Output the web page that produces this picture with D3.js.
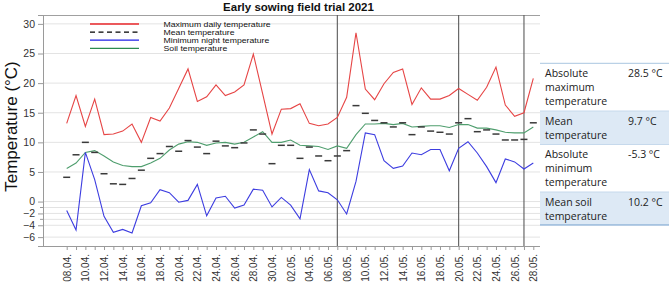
<!DOCTYPE html>
<html><head><meta charset="utf-8">
<script src="https://cdn.jsdelivr.net/npm/d3@7"></script>
<style>
html,body{margin:0;padding:0;background:#fff;}
svg{display:block;}
text{font-family:"Liberation Sans",Arial,sans-serif;}
.tbl text{font-family:"Open Sans","Noto Sans",sans-serif;}
</style></head>
<body>
<svg id="chart" width="669" height="285"></svg>
<script>
const title = "Early sowing field trial 2021";
const yTitle = "Temperature (°C)";
const dates = ["08.04.","09.04.","10.04.","11.04.","12.04.","13.04.","14.04.","15.04.","16.04.","17.04.","18.04.","19.04.","20.04.","21.04.","22.04.","23.04.","24.04.","25.04.","26.04.","27.04.","28.04.","29.04.","30.04.","01.05.","02.05.","03.05.","04.05.","05.05.","06.05.","07.05.","08.05.","09.05.","10.05.","11.05.","12.05.","13.05.","14.05.","15.05.","16.05.","17.05.","18.05.","19.05.","20.05.","21.05.","22.05.","23.05.","24.05.","25.05.","26.05.","27.05.","28.05."];
const maxTemp = [13.2,17.9,12.7,17.3,11.3,11.4,11.9,13.1,10.0,14.2,13.6,15.8,19.1,22.4,16.9,17.7,19.7,17.9,18.5,19.7,24.9,18.2,11.4,15.6,15.7,16.5,13.2,12.8,13.1,14.2,17.6,28.5,19.0,17.2,19.9,21.8,22.4,16.4,19.2,17.3,17.3,17.9,19.1,18.1,17.1,19.3,22.7,16.3,14.4,15.0,20.8];
const meanTemp = [4.1,7.9,10.0,8.3,4.7,3.0,2.9,3.9,5.3,7.3,8.1,9.3,8.5,10.3,9.2,8.1,10.2,9.4,9.1,9.9,12.1,11.4,6.4,9.5,9.5,7.3,9.2,7.7,6.9,7.7,8.6,16.2,14.9,13.7,13.3,12.6,13.3,11.3,12.6,11.9,11.7,11.4,13.3,14.0,11.8,12.1,11.4,10.4,10.4,10.5,13.3];
const minTemp = [-1.5,-4.8,8.3,3.7,-2.5,-5.2,-4.7,-5.3,-0.7,-0.2,2.0,1.5,-0.1,0.2,2.9,-2.4,0.6,0.9,-1.1,-0.6,2.1,1.9,-0.9,0.7,-0.6,-2.9,5.4,1.8,1.5,0.3,-2.1,3.4,11.6,11.3,6.9,5.6,6.0,8.2,7.9,8.8,8.8,5.2,9.0,10.1,8.2,5.9,3.2,7.2,6.7,5.5,6.5];
const soilTemp = [5.6,6.5,8.3,8.6,7.7,6.7,6.1,5.9,5.9,6.5,7.3,8.7,9.7,10.1,10.0,9.5,9.9,10.0,9.7,10.0,10.9,11.8,10.0,10.0,10.4,9.5,9.4,9.3,8.8,9.4,9.0,11.3,13.1,13.1,13.2,13.0,13.2,12.6,12.7,12.8,12.8,12.5,13.0,13.0,12.4,12.4,12.1,11.7,11.6,11.6,12.6];
const markerDates = ["07.05.","20.05.","27.05."];
const yTickValues = [-6,-4,-2,0,5,10,15,20,25,30];
const yGridValues = [-6,-4,-3,-2,-1,0,5,10,15,20,25,30];
const legendLabels = ["Maximum daily temperature","Mean temperature","Minimum night temperature","Soil temperature"];
const statLabels = [["Absolute","maximum","temperature"],["Mean","temperature"],["Absolute","minimum","temperature"],["Mean soil","temperature"]];
const statValues = ["28.5 °C","9.7 °C","-5.3 °C","10.2 °C"];

const svg = d3.select("#chart");
const L = 43, R = 540, T = 15, B = 246;
const x = d3.scalePoint().domain(dates).range([66.7, 533.3]);
const y = d3.scaleLinear().domain([-7.5, 31.5]).range([B, T]);

// grid
svg.append("g").selectAll("line").data(yGridValues).join("line")
  .attr("x1", L).attr("x2", R).attr("y1", d => y(d)).attr("y2", d => y(d))
  .attr("stroke", "#e3e3e3").attr("stroke-width", 1);

// top border
svg.append("line").attr("x1", L).attr("x2", R).attr("y1", T + 0.5).attr("y2", T + 0.5)
  .attr("stroke", "#a0a0a0");

// vertical markers
svg.append("g").selectAll("line").data(markerDates).join("line")
  .attr("x1", d => x(d)).attr("x2", d => x(d)).attr("y1", T).attr("y2", B)
  .attr("stroke", "#5a5a5a").attr("stroke-width", 1.1);

// y axis
const yAxis = svg.append("g").attr("transform", `translate(${L},0)`)
  .call(d3.axisLeft(y).tickValues(yTickValues).tickSize(5).tickPadding(3).tickFormat(d3.format("d")));
yAxis.select(".domain").attr("stroke", "#9a9a9a");
yAxis.selectAll(".tick line").attr("stroke", "#9a9a9a");
yAxis.selectAll("text").attr("font-size", 10.5).attr("fill", "#333").style("font-family", "Liberation Sans, Arial, sans-serif");
svg.append("g").selectAll("line").data([-1,-3]).join("line")
  .attr("x1", L - 3).attr("x2", L).attr("y1", d => y(d)).attr("y2", d => y(d)).attr("stroke", "#9a9a9a");

// x axis
const xAxis = svg.append("g").attr("transform", `translate(0,${B})`)
  .call(d3.axisBottom(x).tickSize(4).tickFormat((d, i) => i % 2 === 0 ? d : ""));
xAxis.select(".domain").attr("stroke", "#9a9a9a").attr("d", `M${L},0.5H${R}`);
xAxis.selectAll(".tick line").attr("stroke", "#9a9a9a");
xAxis.selectAll("text").attr("font-size", 10).attr("fill", "#333")
  .attr("transform", "rotate(-90)").attr("text-anchor", "end")
  .attr("x", -8).attr("y", 0).attr("dy", "0.35em")
  .style("font-family", "Liberation Sans, Arial, sans-serif");

// lines
const line = d3.line().x((d, i) => x(dates[i])).y(d => y(d));
svg.append("path").datum(soilTemp).attr("d", line).attr("fill", "none").attr("stroke", "#4f9e6e").attr("stroke-width", 1.1);
svg.append("path").datum(maxTemp).attr("d", line).attr("fill", "none").attr("stroke", "#e64545").attr("stroke-width", 1.1);
svg.append("path").datum(minTemp).attr("d", line).attr("fill", "none").attr("stroke", "#3d3de0").attr("stroke-width", 1.1);
svg.append("g").selectAll("line").data(meanTemp).join("line")
  .attr("x1", (d, i) => x(dates[i]) - 3.5).attr("x2", (d, i) => x(dates[i]) + 3.5)
  .attr("y1", d => y(d)).attr("y2", d => y(d))
  .attr("stroke", "#3a3a3a").attr("stroke-width", 1.5);

// legend
const legColors = ["#e8262a", "#000", "#1f1fe6", "#2a8a4f"];
const lg = svg.append("g");
legendLabels.forEach((t, i) => {
  const ly = 24 + i * 8.1;
  lg.append("line").attr("x1", 90).attr("x2", 139).attr("y1", ly).attr("y2", ly)
    .attr("stroke", legColors[i]).attr("stroke-width", 1.3)
    .attr("stroke-dasharray", i === 1 ? "5,3.5" : null);
  const tx = lg.append("text").attr("x", 163.5).attr("y", ly + 2.9).attr("font-size", 8.7).attr("fill", "#111").text(t);
  const w = tx.node().getComputedTextLength();
  tx.attr("font-size", 7.1).attr("textLength", w).attr("lengthAdjust", "spacingAndGlyphs");
});

// title
svg.append("text").attr("x", 298.5).attr("y", 10.5).attr("text-anchor", "middle")
  .attr("font-size", 11.5).attr("font-weight", "bold").attr("fill", "#111").text(title);

// y title
svg.append("text").attr("transform", "translate(17,126.5) rotate(-90)").attr("text-anchor", "middle")
  .attr("font-size", 17).attr("fill", "#111").text(yTitle);

// stats table
const rowEdges = [63.3, 111, 144.5, 192, 225];
const tbl = svg.append("g").attr("class", "tbl");
statLabels.forEach((lines, i) => {
  const y0 = rowEdges[i], y1 = rowEdges[i + 1];
  if (i % 2 === 1) tbl.append("rect").attr("x", 540).attr("y", y0).attr("width", 129).attr("height", y1 - y0).attr("fill", "#dde9f5");
  lines.forEach((t, j) => {
    tbl.append("text").attr("x", 545).attr("y", y0 + 10 + j * 14).attr("dy", "0.35em")
      .attr("font-size", 10.5).attr("fill", "#222").text(t);
  });
  tbl.append("text").attr("x", 628).attr("y", y0 + 10).attr("dy", "0.35em")
    .attr("font-size", 10.5).attr("fill", "#222").text(statValues[i]);
});
tbl.selectAll("line.sep").data(rowEdges).join("line").attr("class", "sep")
  .attr("x1", 540).attr("x2", 669).attr("y1", d => d).attr("y2", d => d)
  .attr("stroke", (d, i) => i === 0 ? "#a9c6e0" : (i === rowEdges.length - 1 ? "#6f9ccb" : "#c6d9ec"))
  .attr("stroke-width", 1);
</script>
</body></html>
